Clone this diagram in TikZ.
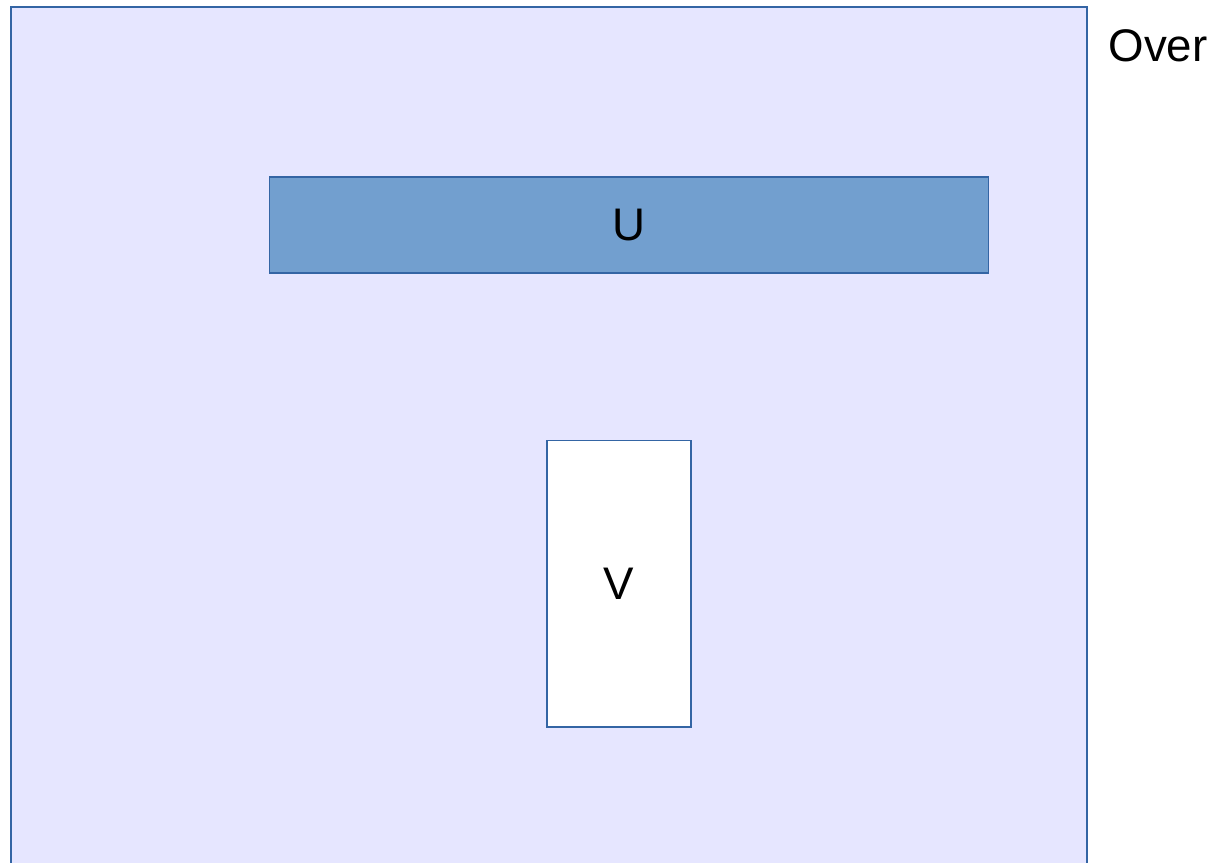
\documentclass[tikz,border=0pt]{standalone}
\usepackage{fontspec}
\setmainfont{Liberation Sans}
\usepackage{xcolor}
\definecolor{lavendel}{HTML}{E6E6FF}
\definecolor{randblau}{HTML}{3465A4}
\definecolor{hellblau}{HTML}{729FCF}

\begin{document}
\begin{tikzpicture}[x=0.02cm,y=-0.02cm,font=\fontsize{26}{30}\selectfont,line width=0.6pt]
\useasboundingbox (0,0) rectangle (1220,862);
\begin{scope}
\clip (0,0) rectangle (1220,862);
\fill[lavendel] (11,7) rectangle (1087,900);
\draw[randblau] (11,900) -- (11,7) -- (1087,7) -- (1087,900);
\end{scope}
\node[draw=randblau,fill=hellblau,minimum width=14.4cm,minimum height=1.92cm,inner sep=0pt] (boxU) at (629,225) {U};
\node[draw=randblau,fill=white,minimum width=2.88cm,minimum height=5.74cm,inner sep=0pt] (boxV) at (619,583.5) {V};
\node[anchor=west,inner sep=0pt] (over) at (1108,46) {Over};
\end{tikzpicture}
\end{document}
